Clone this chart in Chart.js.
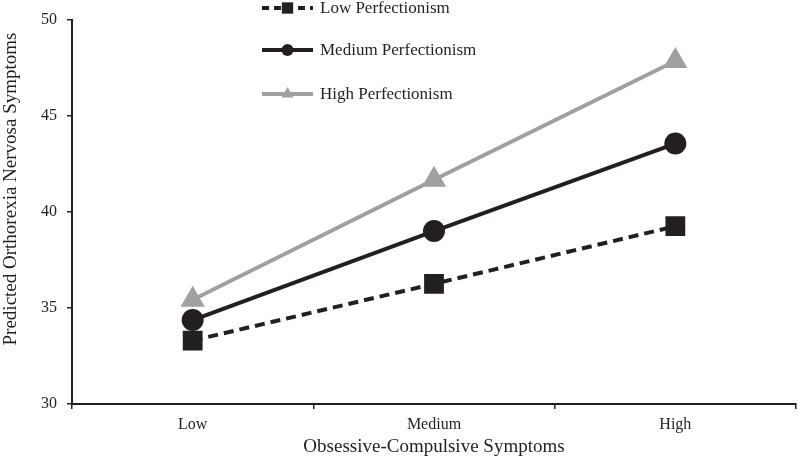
<!DOCTYPE html>
<html><head><meta charset="utf-8">
<script src="https://cdn.jsdelivr.net/npm/chart.js@4"></script>
<style>html,body{margin:0;padding:0;background:#fff}#wrap{width:798px;height:462px}</style>
</head><body><div id="wrap"><canvas id="c" width="798" height="462"></canvas></div>
<script>
const categories = ["Low", "Medium", "High"];
const seriesNames = ["Low Perfectionism", "Medium Perfectionism", "High Perfectionism"];
const lowPerf = [33.3, 36.25, 39.25];
const medPerf = [34.37, 39.0, 43.55];
const highPerf = [35.42, 41.67, 47.85];
const yTicks = [30, 35, 40, 45, 50];
const yTitle = 'Predicted Orthorexia Nervosa Symptoms';
const xTitle = 'Obsessive-Compulsive Symptoms';

const BLACK = '#231f20', GRAY = '#a0a0a0';
const FONT = '"Liberation Serif", "Times New Roman", serif';

const datasets = [
  {label: seriesNames[0], data: lowPerf, borderColor: BLACK, backgroundColor: BLACK, borderWidth: 4, borderDash: [10, 6],
   pointStyle: 'rect', pointRadius: 14, pointHoverRadius: 14, pointBorderWidth: 0, legendDash: [7, 5], legendR: 8},
  {label: seriesNames[1], data: medPerf, borderColor: BLACK, backgroundColor: BLACK, borderWidth: 4,
   pointStyle: 'circle', pointRadius: 11, pointHoverRadius: 11, pointBorderWidth: 0, legendR: 6},
  {label: seriesNames[2], data: highPerf, borderColor: GRAY, backgroundColor: GRAY, borderWidth: 4,
   pointStyle: 'triangle', pointRadius: 14, pointHoverRadius: 14, pointBorderWidth: 0, legendR: 7},
];

const legendPlugin = {
  id: 'customLegend',
  afterDraw(chart) {
    const ctx = chart.ctx;
    const ys = [8, 50, 94];
    const x0 = 262, x1 = 313;
    chart.data.datasets.forEach((ds, i) => {
      const y = ys[i];
      ctx.save();
      ctx.strokeStyle = ds.borderColor;
      ctx.lineWidth = 4;
      ctx.setLineDash(ds.legendDash || []);
      ctx.beginPath(); ctx.moveTo(x0, y); ctx.lineTo(x1, y); ctx.stroke();
      ctx.setLineDash([]);
      ctx.fillStyle = ds.backgroundColor;
      ctx.strokeStyle = ds.backgroundColor;
      Chart.helpers.drawPoint(ctx, {pointStyle: ds.pointStyle, radius: ds.legendR, borderWidth: 0, rotation: 0}, (x0 + x1) / 2, y);
      ctx.fillStyle = BLACK;
      ctx.font = '17px ' + FONT;
      ctx.textBaseline = 'middle';
      ctx.textAlign = 'left';
      ctx.fillText(ds.label, 320, y + 1);
      ctx.restore();
    });
    // y-axis title (shifted upward as in the reference)
    ctx.save();
    ctx.translate(11, 189);
    ctx.rotate(-Math.PI / 2);
    ctx.fillStyle = BLACK;
    ctx.font = '19px ' + FONT;
    ctx.textAlign = 'center';
    ctx.textBaseline = 'middle';
    ctx.fillText(yTitle, 0, 0);
    ctx.restore();
  }
};

new Chart(document.getElementById('c'), {
  type: 'line',
  data: {labels: categories, datasets},
  options: {
    responsive: false,
    animation: false,
    devicePixelRatio: 1,
    layout: {autoPadding: false, padding: {top: 18, right: 2, left: 0, bottom: 0}},
    plugins: {legend: {display: false}, tooltip: {enabled: false}},
    scales: {
      x: {
        offset: true,
        grid: {offset: true, drawOnChartArea: false, drawTicks: true, tickLength: 5, color: BLACK, lineWidth: 1.5},
        border: {color: BLACK, width: 2},
        ticks: {color: BLACK, font: {family: FONT, size: 16}, padding: 6},
        title: {display: true, text: xTitle, color: BLACK, font: {family: FONT, size: 19}, padding: {top: 12}},
        afterFit(s) { s.height = 58; }
      },
      y: {
        min: 30, max: 50,
        afterBuildTicks(s) { s.ticks = yTicks.map(v => ({value: v})); },
        grid: {drawOnChartArea: false, drawTicks: true, tickLength: 5, color: BLACK, lineWidth: 1.5},
        border: {color: BLACK, width: 2},
        ticks: {color: BLACK, font: {family: FONT, size: 16}, padding: 10},
        title: {display: false},
        afterFit(s) { s.width = 72; }
      }
    }
  },
  plugins: [legendPlugin]
});
</script></body></html>
